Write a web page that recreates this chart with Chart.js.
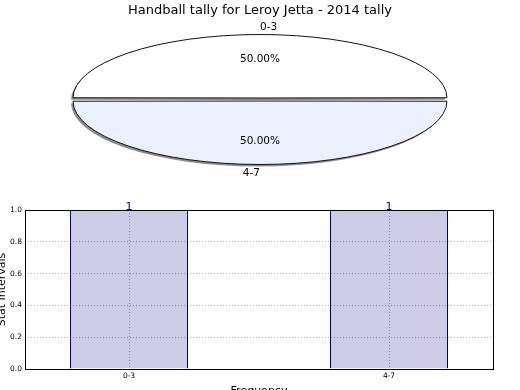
<!DOCTYPE html>
<html>
<head>
<meta charset="utf-8">
<script src="https://cdn.jsdelivr.net/npm/chart.js@4"></script>
<style>
  html, body { margin: 0; padding: 0; background: #fff; }
  body { width: 520px; height: 390px; position: relative; overflow: hidden; }
  #pieBox { position: absolute; left: 0; top: 0; width: 520px; height: 185px; }
  #barBox { position: absolute; left: -8px; top: 192px; width: 528px; height: 210px; }
</style>
</head>
<body>
<div id="pieBox"><canvas id="pieChart"></canvas></div>
<div id="barBox"><canvas id="barChart"></canvas></div>
<script>
let chartTitle = 'Handball tally for Leroy Jetta - 2014 tally';
let categories = ['0-3', '4-7'];
let tally = [1, 1];
let yTicks = [0, 0.2, 0.4, 0.6, 0.8, 1.0];

Chart.defaults.font.family = 'DejaVu Sans';
Chart.defaults.color = '#000';

// radius the arc really gets drawn with (chart.js adds offset/4)
function drawnRadius(arc) {
    return arc.outerRadius + (arc.options.offset || 0) / 4;
}

// pie is drawn as a circle, then stretched sideways into the ellipse
let squash = {
    id: 'squash',
    beforeDatasetsDraw(chart, args, opts) {
        let ctx = chart.ctx;
        let arc = chart.getDatasetMeta(0).data[0];
        let k = opts.rx / drawnRadius(arc);
        let dpr = chart.currentDevicePixelRatio;
        ctx.save();
        ctx.translate(arc.x, 0);
        ctx.scale(k, 1);
        ctx.translate(-arc.x, 0);
        ctx.shadowColor = 'rgba(0, 0, 0, 0.45)';
        ctx.shadowOffsetX = -2;
        ctx.shadowOffsetY = 2;
        let stroke = CanvasRenderingContext2D.prototype.stroke;
        // keep outline width even after the stretch, and no shadow on it
        ctx.stroke = function () {
            this.save();
            this.setTransform(dpr, 0, 0, dpr, 0, 0);
            this.shadowColor = 'rgba(0, 0, 0, 0)';
            stroke.call(this);
            this.restore();
        };
    },
    afterDatasetsDraw(chart, args, opts) {
        let ctx = chart.ctx;
        delete ctx.stroke;
        ctx.restore();

        let meta = chart.getDatasetMeta(0);
        let values = chart.data.datasets[0].data;
        let total = values.reduce((a, b) => a + b, 0);
        ctx.save();
        ctx.fillStyle = '#000';
        ctx.font = '10.5px "DejaVu Sans"';
        ctx.textBaseline = 'middle';
        meta.data.forEach((arc, i) => {
            let r = drawnRadius(arc);
            let k = opts.rx / r;
            let mid = (arc.startAngle + arc.endAngle) / 2;
            let shift = (arc.options.offset || 0) / 2;
            let ux = Math.cos(mid), uy = Math.sin(mid);
            let theta = -mid;
            if (theta < 0) theta += Math.PI * 2;

            let lx = arc.x + ux * (r * 1.1 + shift) * k;
            let ly = arc.y + uy * (r * 1.1 + shift) + 1;
            ctx.textAlign = Math.cos(theta) > 0 ? 'left' : 'right';
            ctx.fillText(chart.data.labels[i], lx, ly);

            let px = arc.x + ux * (r * 0.6 + shift) * k;
            let py = arc.y + uy * (r * 0.6 + shift) + 1;
            ctx.textAlign = 'center';
            ctx.fillText((values[i] / total * 100).toFixed(2) + '%', px, py);
        });
        ctx.restore();
    }
};

let pieChart = new Chart(document.getElementById('pieChart'), {
    type: 'pie',
    data: {
        labels: categories,
        datasets: [{
            data: tally,
            backgroundColor: ['#ffffff', '#eaf0fc'],
            borderColor: '#111',
            borderWidth: 1,
            offset: 6,
            radius: 62,
            rotation: -90
        }]
    },
    options: {
        responsive: true,
        maintainAspectRatio: false,
        animation: false,
        events: [],
        layout: { padding: { top: 0, bottom: 4.6, left: 0, right: 0 } },
        plugins: {
            legend: { display: false },
            tooltip: { enabled: false },
            title: {
                display: true,
                text: chartTitle,
                font: { size: 13, weight: 'normal' },
                padding: { top: 3, bottom: 0 }
            },
            squash: { rx: 187 }
        }
    },
    plugins: [squash]
});

let barExtras = {
    id: 'barExtras',
    afterDatasetsDraw(chart) {
        let ctx = chart.ctx;
        let a = chart.chartArea;
        ctx.save();
        ctx.strokeStyle = '#000';
        ctx.lineWidth = 1;
        ctx.strokeRect(Math.round(a.left) + 0.5, Math.round(a.top) + 0.5,
            Math.round(a.right - a.left), Math.round(a.bottom - a.top));
        ctx.fillStyle = '#000080';
        ctx.font = '11px "DejaVu Sans"';
        ctx.textAlign = 'center';
        ctx.textBaseline = 'alphabetic';
        chart.getDatasetMeta(0).data.forEach((bar, i) => {
            ctx.fillText(String(tally[i]), bar.x, bar.y);
        });
        ctx.restore();
    }
};

let barChart = new Chart(document.getElementById('barChart'), {
    type: 'bar',
    data: {
        datasets: [{
            data: categories.map((c, i) => ({ x: i, y: tally[i] })),
            backgroundColor: 'rgba(0, 0, 128, 0.2)',
            borderColor: '#000080',
            borderWidth: 1,
            categoryPercentage: 1,
            barPercentage: 0.4538
        }]
    },
    options: {
        responsive: true,
        maintainAspectRatio: false,
        animation: false,
        events: [],
        layout: { padding: { top: 18, bottom: 4.4, left: 0, right: 27 } },
        plugins: {
            legend: { display: false },
            tooltip: { enabled: false }
        },
        scales: {
            x: {
                type: 'linear',
                min: -0.4,
                max: 1.4,
                offset: false,
                afterBuildTicks: (scale) => { scale.ticks = categories.map((c, i) => ({ value: i })); },
                afterFit: (scale) => { scale.height = 28.6; },
                ticks: {
                    autoSkip: false,
                    maxRotation: 0,
                    padding: 3,
                    font: { size: 7.5 },
                    callback: (v) => categories[v]
                },
                grid: { offset: false, drawTicks: false, color: 'rgba(0, 0, 0, 0.3)' },
                border: { display: false, dash: [1, 2] },
                title: { display: true, text: 'Frequency', font: { size: 11 }, padding: 0 }
            },
            y: {
                min: 0,
                max: 1,
                afterBuildTicks: (scale) => { scale.ticks = yTicks.map(v => ({ value: v })); },
                afterFit: (scale) => { scale.width = 33; },
                ticks: {
                    padding: 3,
                    font: { size: 7.5 },
                    callback: (v) => v.toFixed(1)
                },
                grid: { drawTicks: false, color: 'rgba(0, 0, 0, 0.3)' },
                border: { display: false, dash: [1, 2] },
                title: { display: true, text: 'Stat Intervals', font: { size: 11 }, padding: { top: 4 } }
            }
        }
    },
    plugins: [barExtras]
});
</script>
</body>
</html>
